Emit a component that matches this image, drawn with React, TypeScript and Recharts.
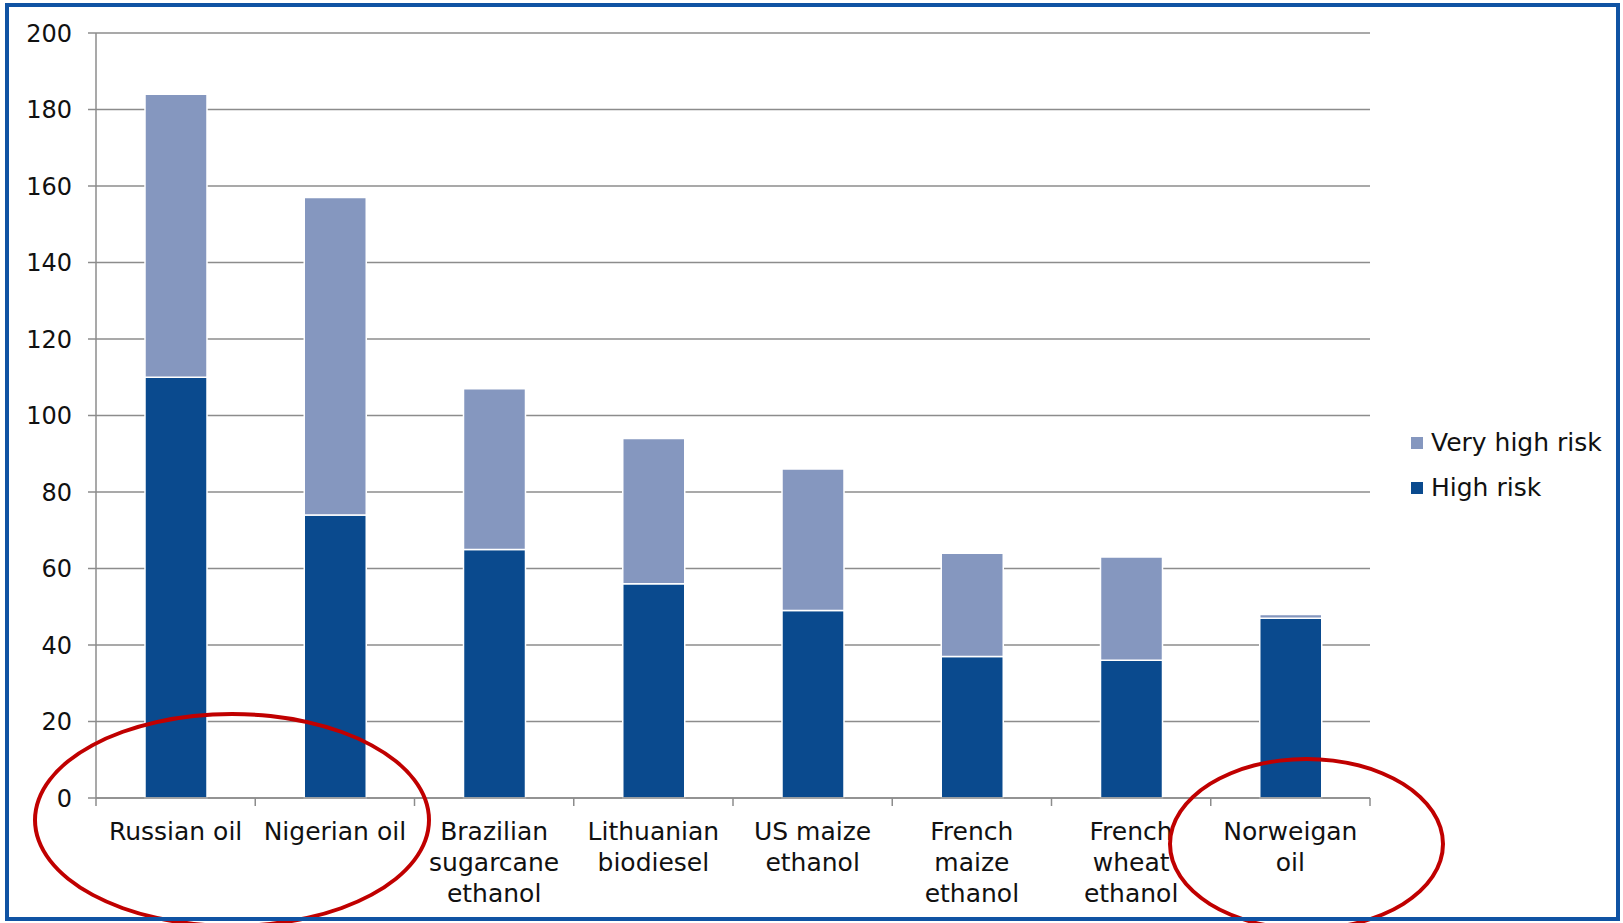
import { BarChart, Bar, XAxis, YAxis, CartesianGrid, Legend } from 'recharts';

const categories = [
  'Russian oil',
  'Nigerian oil',
  'Brazilian\nsugarcane\nethanol',
  'Lithuanian\nbiodiesel',
  'US maize\nethanol',
  'French\nmaize\nethanol',
  'French\nwheat\nethanol',
  'Norweigan\noil',
];
const highRisk = [110, 74, 65, 56, 49, 37, 36, 47];
const veryHighRisk = [74, 83, 42, 38, 37, 27, 27, 1];
const yTicks = [0, 20, 40, 60, 80, 100, 120, 140, 160, 180, 200];

const data = categories.map((name, i) => ({
  name,
  high: highRisk[i],
  veryHigh: veryHighRisk[i],
}));

const FONT = '"DejaVu Sans", Verdana, sans-serif';
const GRID = '#8c8c8c';
const DARK = '#0a4a8e';
const LIGHT = '#8597bf';

// labels centred on the band, tick marks on the band edges
function CategoryTick({ x, y, payload, index }: any) {
  const lines = String(payload.value).split('\n');
  const half = payload.offset || 0;
  return (
    <g>
      <line x1={x - half} x2={x - half} y1={y} y2={y + 8} stroke={GRID} strokeWidth={1.5} />
      {index === categories.length - 1 && (
        <line x1={x + half} x2={x + half} y1={y} y2={y + 8} stroke={GRID} strokeWidth={1.5} />
      )}
      <text x={x} y={y} textAnchor="middle" fontSize={25} fontFamily={FONT} fill="#111">
        {lines.map((line, i) => (
          <tspan key={i} x={x} dy={i === 0 ? 42 : 31}>
            {line}
          </tspan>
        ))}
      </text>
    </g>
  );
}

function LegendBox({ payload }: any) {
  const items = [...(payload || [])].reverse();
  return (
    <div style={{ fontFamily: FONT, fontSize: 25, color: '#111' }}>
      {items.map((item: any) => (
        <div key={item.value} style={{ display: 'flex', alignItems: 'center', height: 45 }}>
          <span style={{ width: 12, height: 12, background: item.color, marginRight: 8, display: 'inline-block' }} />
          {item.value}
        </div>
      ))}
    </div>
  );
}

function Ellipse({ left, top, width, height }: { left: number; top: number; width: number; height: number }) {
  return (
    <div
      style={{
        position: 'absolute',
        left,
        top,
        width,
        height,
        border: '4px solid #c00000',
        borderRadius: '50%',
        boxSizing: 'border-box',
        pointerEvents: 'none',
      }}
    />
  );
}

export default function App() {
  return (
    <div style={{ position: 'absolute', left: 0, top: 0, width: 1623, height: 923, overflow: 'hidden', background: '#fff' }}>
      <BarChart
        width={1623}
        height={923}
        data={data}
        margin={{ top: 33, right: 253, left: 0, bottom: 0 }}
        barSize={62}
      >
        <CartesianGrid vertical={false} stroke={GRID} strokeWidth={1.5} />
        <XAxis
          dataKey="name"
          height={125}
          interval={0}
          tickSize={0}
          tickMargin={0}
          tickLine={false}
          axisLine={{ stroke: GRID, strokeWidth: 1.5 }}
          tick={<CategoryTick />}
        />
        <YAxis
          width={96}
          domain={[0, 200]}
          ticks={yTicks}
          tickSize={8}
          tickMargin={16}
          axisLine={{ stroke: GRID, strokeWidth: 1.5 }}
          tickLine={{ stroke: GRID, strokeWidth: 1.5 }}
          tick={{ fontSize: 24, fontFamily: FONT, fill: '#111' }}
        />
        <Legend
          layout="vertical"
          verticalAlign="middle"
          align="center"
          content={<LegendBox />}
          wrapperStyle={{ position: 'absolute', left: 1411, top: 420, width: 210 }}
        />
        <Bar dataKey="high" name="High risk" stackId="a" fill={DARK} stroke="#fff" strokeWidth={1.5} isAnimationActive={false} />
        <Bar dataKey="veryHigh" name="Very high risk" stackId="a" fill={LIGHT} stroke="#fff" strokeWidth={1.5} isAnimationActive={false} />
      </BarChart>
      <Ellipse left={33} top={712} width={398} height={216} />
      <Ellipse left={1168} top={757} width={277} height={174} />
      <div
        style={{
          position: 'absolute',
          left: 5,
          top: 3,
          width: 1615,
          height: 918,
          border: '4px solid #1053a3',
          boxSizing: 'border-box',
          pointerEvents: 'none',
        }}
      />
    </div>
  );
}
